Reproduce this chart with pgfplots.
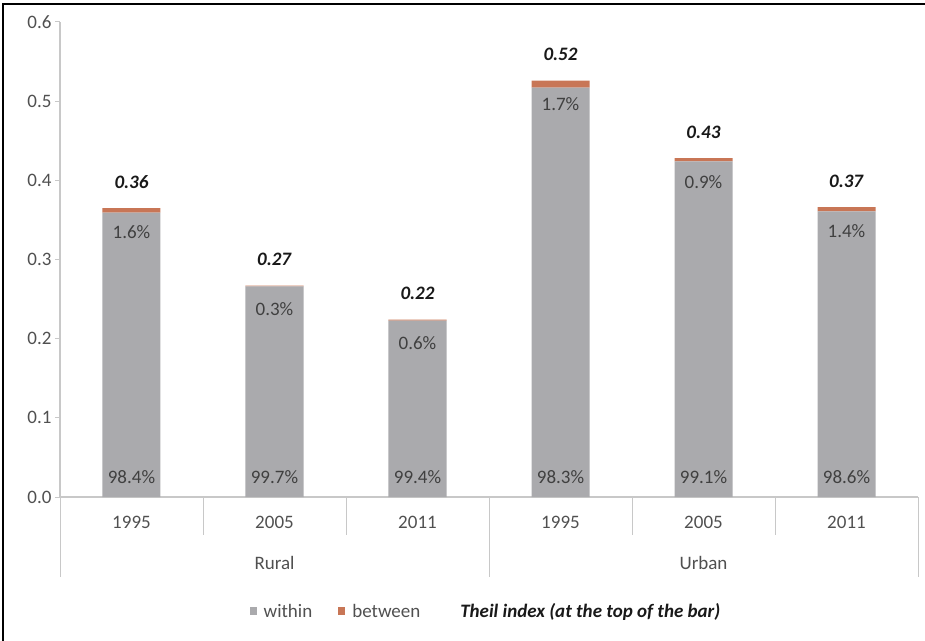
\documentclass[border=0pt]{standalone}
\usepackage{pgfplots}
\pgfplotsset{compat=1.18}
\usepackage{fontspec}
\setmainfont{Carlito}
\definecolor{within}{RGB}{170,170,173}
\definecolor{between}{RGB}{200,118,86}
\definecolor{axisgray}{RGB}{200,200,200}
\definecolor{ticktext}{RGB}{80,80,80}
\definecolor{labtext}{RGB}{64,64,64}
\begin{document}
\fontsize{19bp}{23bp}\selectfont
\begin{tikzpicture}
\begin{axis}[
  at={(0,0)}, anchor=south west,
  scale only axis,
  width=858bp, height=475bp,
  xmin=-0.5, xmax=5.5,
  ymin=0, ymax=0.6,
  ybar stacked,
  bar width=58bp,
  clip=false,
  axis x line*=bottom,
  axis y line*=left,
  axis line style={axisgray, line width=1.2bp, -},
  xtick={0,1,2,3,4,5},
  xticklabels={1995,2005,2011,1995,2005,2011},
  x tick style={draw=none},
  xticklabel style={anchor=base, yshift=-26bp, text=ticktext},
  ytick={0,0.1,0.2,0.3,0.4,0.5,0.6},
  y tick style={axisgray, line width=1bp},
  tick align=outside,
  major tick length=5bp,
  yticklabel style={text=ticktext, xshift=3bp},
  yticklabel={\pgfmathprintnumber[fixed,fixed zerofill,precision=1]{\tick}},
  /pgf/number format/assume math mode=true,
  legend style={draw=none, fill=none, at={(0.4965,-0.242)}, anchor=center,
    legend columns=3, font=\fontsize{19bp}{23bp}\selectfont,
    /tikz/every even column/.append style={column sep=24bp},
    text=ticktext},
]
\addplot[fill=within, draw=none,
  legend image code/.code={\fill[within] (0bp,-3bp) rectangle (7bp,5bp); \path (12bp,0bp);}]
  coordinates {(0,0.3592) (1,0.2662) (2,0.2227) (3,0.5171) (4,0.4241) (5,0.3609)};
\addlegendentry{within}
\addplot[fill=between, draw=none,
  legend image code/.code={\fill[between] (0bp,-3bp) rectangle (7bp,5bp); \path (12bp,0bp);}]
  coordinates {(0,0.0058) (1,0.0008) (2,0.0013) (3,0.0089) (4,0.0039) (5,0.0051)};
\addlegendentry{between}
\addlegendimage{empty legend}
\addlegendentry{\hspace*{12bp}\textcolor{black!90}{\textbf{\textit{Theil index (at the top of the bar)}}}}

% anchor coordinates for labels
\coordinate (t0) at (axis cs:0,0.365);
\coordinate (t1) at (axis cs:1,0.267);
\coordinate (t2) at (axis cs:2,0.224);
\coordinate (t3) at (axis cs:3,0.526);
\coordinate (t4) at (axis cs:4,0.428);
\coordinate (t5) at (axis cs:5,0.366);
\coordinate (b0) at (axis cs:0,0);
\coordinate (b1) at (axis cs:1,0);
\coordinate (b2) at (axis cs:2,0);
\coordinate (b3) at (axis cs:3,0);
\coordinate (b4) at (axis cs:4,0);
\coordinate (b5) at (axis cs:5,0);
\coordinate (s0) at (axis cs:-0.5,0);
\coordinate (s1) at (axis cs:0.5,0);
\coordinate (s2) at (axis cs:1.5,0);
\coordinate (s3) at (axis cs:2.5,0);
\coordinate (s4) at (axis cs:3.5,0);
\coordinate (s5) at (axis cs:4.5,0);
\coordinate (s6) at (axis cs:5.5,0);
\end{axis}
% separators below the x axis
\foreach \s in {s1,s2,s4,s5} {\draw[axisgray, line width=1bp] (\s) -- ([yshift=-38bp]\s);}
\foreach \s in {s0,s3,s6} {\draw[axisgray, line width=1bp] (\s) -- ([yshift=-80bp]\s);}
\node[anchor=base, text=ticktext] at ([yshift=-72bp]b1) {Rural};
\node[anchor=base, text=ticktext] at ([yshift=-72bp]b4) {Urban};
% between shares (top of bar)
\foreach \i/\v in {0/1.6,1/0.3,2/0.6,3/1.7,4/0.9,5/1.4}
  {\node[anchor=base, text=labtext] at ([yshift=-30bp]t\i) {\v\%};}
% within shares (bottom of bar)
\foreach \i/\v in {0/98.4,1/99.7,2/99.4,3/98.3,4/99.1,5/98.6}
  {\node[anchor=base, text=labtext] at ([yshift=14bp]b\i) {\v\%};}
% Theil index totals
\foreach \i/\v in {0/0.36,1/0.27,2/0.22,3/0.52,4/0.43,5/0.37}
  {\node[anchor=base, text=black!90] at ([yshift=20bp]t\i) {\textbf{\textit{\v}}};}
% frame (left and top lines)
\draw[black, line width=2bp] (-57bp,-144bp) -- (-57bp,493bp) -- (865bp,493bp);
\pgfresetboundingbox
\useasboundingbox (-60bp,-144bp) rectangle (865bp,497bp);
\end{tikzpicture}
\end{document}
